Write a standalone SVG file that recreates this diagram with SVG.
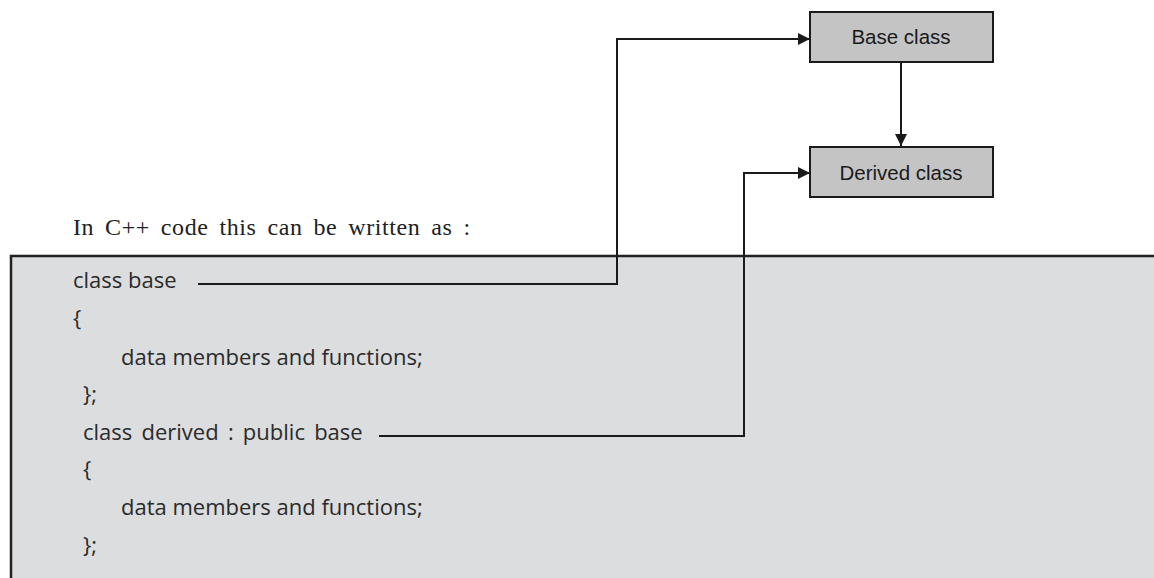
<svg xmlns="http://www.w3.org/2000/svg" width="1154" height="578" viewBox="0 0 1154 578">
<style>
.code{font-family:"Open Sans","Liberation Sans",sans-serif;font-size:22px;fill:#2a2a2a}
.node{fill:#c4c4c4;stroke:#1a1a1a;stroke-width:2}
.lbl{font-family:"Liberation Sans",Arial,sans-serif;font-size:20.5px;fill:#1a1a1a;text-anchor:middle}
.conn{fill:none;stroke:#1a1a1a;stroke-width:2}
</style>
<defs>
<marker id="ah" markerWidth="12" markerHeight="12" refX="12" refY="6" orient="auto" markerUnits="userSpaceOnUse">
<path d="M0,0 L12,6 L0,12 Z" fill="#1a1a1a"/>
</marker>
</defs>
<rect width="1154" height="578" fill="#ffffff"/>
<text x="73" y="235" font-family="Liberation Serif, serif" font-size="24" word-spacing="4.3" letter-spacing="0.6" fill="#222">In C++ code this can be written as :</text>
<g id="codebox">
<rect x="11" y="256" width="1150" height="330" fill="#dcdddf"/>
<path d="M11,578 L11,256 L1154,256" fill="none" stroke="#222" stroke-width="2.5"/>
<text class="code" x="73" y="288">class base</text>
<text class="code" x="73" y="326">{</text>
<text class="code" x="121" y="365">data members and functions;</text>
<text class="code" x="83" y="402">};</text>
<text class="code" x="83" y="440" word-spacing="3.5">class derived : public base</text>
<text class="code" x="83" y="477">{</text>
<text class="code" x="121" y="515">data members and functions;</text>
<text class="code" x="83" y="553">};</text>
</g>
<g id="base">
<rect class="node" x="810" y="12" width="183" height="50"/>
<text class="lbl" x="901" y="44">Base class</text>
</g>
<g id="derived">
<rect class="node" x="810" y="147" width="183" height="50"/>
<text class="lbl" x="901" y="180">Derived class</text>
</g>
<g id="connectors">
<path class="conn" d="M198,284 L617,284 L617,39 L810,39" marker-end="url(#ah)"/>
<path class="conn" d="M379,436 L744,436 L744,173 L810,173" marker-end="url(#ah)"/>
<path class="conn" d="M901,62 L901,146" marker-end="url(#ah)"/>
</g>
</svg>
